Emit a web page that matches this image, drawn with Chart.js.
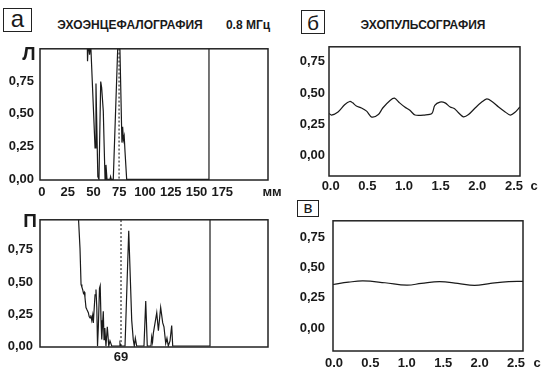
<!DOCTYPE html>
<html>
<head>
<meta charset="utf-8">
<script src="https://cdn.jsdelivr.net/npm/chart.js@4"></script>
<style>
  body { margin: 0; width: 556px; height: 374px; position: relative; overflow: hidden; background: #fff;
         font-family: "Liberation Sans", Arial, sans-serif; color: #1a1a1a; }
  canvas { position: absolute; }
  .t { position: absolute; font-weight: bold; white-space: nowrap; line-height: 1; transform: translate(-50%, -50%); z-index: 2; }
  .box { position: absolute; border: 1.3px solid #222; box-sizing: border-box; display: flex;
         align-items: center; justify-content: center; line-height: 1; }
</style>
</head>
<body>
<div class="box" style="left:3px;top:8px;width:29px;height:24px;font-size:24px;padding-bottom:3px">а</div>
<div class="t" style="left:130px;top:25px;font-size:12px">ЭХОЭНЦЕФАЛОГРАФИЯ</div>
<div class="t" style="left:248px;top:25px;font-size:12px">0.8 МГц</div>
<div class="box" style="left:301px;top:10px;width:24px;height:24px;font-size:21px">б</div>
<div class="t" style="left:423px;top:25px;font-size:12px">ЭХОПУЛЬСОГРАФИЯ</div>
<div class="box" style="left:297px;top:200px;width:22px;height:17px;font-size:17px;padding-bottom:2px">в</div>
<div class="t" style="left:29px;top:53px;font-size:19px">Л</div>
<div class="t" style="left:30px;top:220px;font-size:19px">П</div>

<canvas id="cL" width="290" height="170" style="left:0;top:35px"></canvas>
<canvas id="cR" width="290" height="169" style="left:0;top:205px"></canvas>
<canvas id="cP" width="266" height="170" style="left:290px;top:35px"></canvas>
<canvas id="cF" width="266" height="169" style="left:290px;top:205px"></canvas>

<script>
// echo, left side (Л): depth in mm, amplitude
const L_MM  = [0, 43.5, 44.2, 45, 46.2, 47.2, 51.5, 52.4, 54.2, 55.3, 57.0, 57.9, 59.5, 60.2, 61.2, 62.1, 63.1,
               66.0, 66.6, 67.2, 69.2, 74.8, 75.6, 77.6, 78.3, 79.0, 79.8, 80.6, 82.2, 162.1, 162.1];
const L_AMP = [1.3, 1.3, 0.9, 1.05, 0.95, 1.05, 0.24, 0.73, 0.02, 0, 0.745, 0.70, 0.52, 0.30, 0, 0.11, 0,
               0, 0.02, 0, 0, 1.3, 1.3, 0.28, 0.40, 0.30, 0.33, 0.21, 0, 0, 1.3];

// echo, right side (П)
const R_MM  = [0, 35.0, 35.4, 36.9, 37.9, 38.7, 39.5, 40.3, 41.1, 41.7, 42.7, 43.8, 45.0, 45.8, 46.6, 47.4, 48.3,
               49.2, 49.8, 51.5, 52.4, 53.2, 53.9, 54.7, 55.8, 56.5, 57.3, 58.0, 59.5, 60.2, 61.0, 62.1, 63.4,
               64.8, 66.0, 67.7, 74.8, 75.7, 76.5, 80.6, 84.2, 87.1, 88.6, 89.6, 90.6, 91.9, 99.0, 100.7, 102.2,
               105.8, 106.5, 107.3, 108.1, 111.4, 113.0, 115.2, 117.2, 118.4, 120.1, 121.3, 122.6, 124.3, 125.9,
               126.9, 163.1, 163.1];
const R_AMP = [1.3, 1.3, 1.0, 0.76, 0.48, 0.46, 0.44, 0.41, 0.42, 0.38, 0.30, 0.28, 0.26, 0.23, 0.22, 0.24, 0.20,
               0.24, 0.18, 0.40, 0.44, 0.30, 0.0, 0.15, 0.45, 0.47, 0.20, 0.05, 0.27, 0.05, 0.14, 0.0, 0.15,
               0.0, 0.04, 0.0, 0.0, 0.02, 0.0, 0.0, 0.90, 0.20, 0.05, 0.0, 0.06, 0.0, 0.0, 0.35, 0.0,
               0.0, 0.07, 0.03, 0.10, 0.26, 0.12, 0.30, 0.18, 0.15, 0.02, 0.06, 0.0, 0.04, 0.16,
               0.0, 0.0, 1.3];

// midline markers
const MARK_L = 74.8;
const MARK_R = 76.7;
const MARK_R_LABEL = '69';

// echopulsography (б)
const P_T   = [-0.02, 0.01, 0.10, 0.19, 0.26, 0.30, 0.35, 0.42, 0.49, 0.56, 0.65, 0.71, 0.81, 0.87, 0.94, 1.01,
               1.08, 1.15, 1.28, 1.38, 1.42, 1.49, 1.56, 1.63, 1.69, 1.74, 1.81, 1.88, 1.97, 2.06, 2.13, 2.20,
               2.29, 2.38, 2.45, 2.51, 2.58];
const P_AMP = [0.336, 0.324, 0.349, 0.406, 0.432, 0.421, 0.396, 0.380, 0.355, 0.308, 0.328, 0.380, 0.440, 0.458,
               0.421, 0.388, 0.362, 0.324, 0.324, 0.336, 0.401, 0.427, 0.421, 0.388, 0.375, 0.344, 0.310, 0.328,
               0.380, 0.427, 0.452, 0.432, 0.388, 0.349, 0.324, 0.344, 0.388];

// flat pulse (в)
const F_T   = [-0.02, 0.2, 0.4, 0.7, 1.0, 1.2, 1.45, 1.7, 1.93, 2.15, 2.4, 2.6];
const F_AMP = [0.36, 0.38, 0.39, 0.375, 0.355, 0.37, 0.385, 0.37, 0.353, 0.37, 0.385, 0.387];

const MM_TICKS  = [0, 25, 50, 75, 100, 125, 150, 175];
const SEC_TICKS = [0, 0.5, 1.0, 1.5, 2.0, 2.5];
const AMP_TICKS = [0, 0.25, 0.5, 0.75];

const INK = '#1a1a1a';
const FONT = '"Liberation Sans", Arial, sans-serif';
const tickFont = { family: FONT, size: 13, weight: 'bold' };

const frame = {
  id: 'frame',
  afterDatasetsDraw(chart) {
    const { ctx, chartArea: a } = chart;
    ctx.save();
    ctx.strokeStyle = '#222';
    ctx.lineWidth = 1.5;
    ctx.strokeRect(a.left, a.top, a.right - a.left, a.bottom - a.top);
    ctx.restore();
  }
};

const pts = (xs, ys) => xs.map((x, i) => ({ x, y: ys[i] }));
const vline = (x) => ({
  data: [{ x, y: -1 }, { x, y: 2 }],
  borderColor: INK, borderWidth: 1.1, borderDash: [2, 2], pointRadius: 0
});
const trace = (data, tension) => ({
  data, borderColor: INK, borderWidth: 1.2, pointRadius: 0, tension: tension || 0
});

// put a text label on the page, at a canvas position given by the chart
function label(canvas, text, x, y) {
  const d = document.createElement('div');
  d.className = 't';
  d.style.fontSize = '13px';
  d.style.left = (canvas.offsetLeft + x) + 'px';
  d.style.top = (canvas.offsetTop + y) + 'px';
  d.textContent = text;
  document.body.appendChild(d);
}

function makeChart(id, datasets, o) {
  const canvas = document.getElementById(id);
  const chart = new Chart(canvas, {
    type: 'line',
    data: { datasets },
    plugins: [frame],
    options: {
      responsive: false,
      animation: false,
      devicePixelRatio: 1,
      layout: { padding: o.pad },
      plugins: { legend: { display: false }, tooltip: { enabled: false } },
      scales: {
        x: {
          type: 'linear', min: o.xMin, max: o.xMax,
          grid: { display: false, drawTicks: false },
          border: { display: false },
          afterFit: (s) => { s.height = o.xH; },
          ticks: { display: false }
        },
        y: {
          min: o.yMin, max: o.yMax,
          grid: { display: false, drawTicks: false },
          border: { display: false },
          afterFit: (s) => { s.width = o.yW; },
          afterBuildTicks: (s) => { s.ticks = AMP_TICKS.map(v => ({ value: v })); },
          ticks: { font: tickFont, color: INK, padding: o.yPad,
                   callback: (v) => v.toFixed(2).replace('.', ',') }
        }
      }
    }
  });
  // x tick labels placed by the x scale, unit after the axis end
  const a = chart.chartArea;
  const x = chart.scales.x;
  o.xTicks.forEach(v => label(canvas, o.xFmt(v), x.getPixelForValue(v), a.bottom + o.xGap));
  if (o.unit) label(canvas, o.unit, a.right + o.unitDx, a.bottom + o.xGap);
}

const mmX = { xMin: -1.94, xMax: 219.4 };

makeChart('cL', [trace(pts(L_MM, L_AMP)), vline(MARK_L)], {
  ...mmX, yMin: -0.005, yMax: 0.995, xTicks: MM_TICKS, xFmt: (v) => String(v), xGap: 11,
  unit: 'мм', unitDx: 4,
  pad: { left: 0, top: 8, right: 22, bottom: 0 }, yW: 40, xH: 25, yPad: 6
});

makeChart('cR', [trace(pts(R_MM, R_AMP)), vline(MARK_R)], {
  ...mmX, yMin: -0.008, yMax: 0.985, xTicks: [MARK_R], xFmt: () => MARK_R_LABEL, xGap: 9,
  pad: { left: 0, top: 7, right: 22, bottom: 0 }, yW: 40, xH: 27, yPad: 7
});

makeChart('cP', [trace(pts(P_T, P_AMP), 0.3)], {
  xMin: -0.023, xMax: 2.582, yMin: -0.161, yMax: 0.867, xTicks: SEC_TICKS, xFmt: (v) => v.toFixed(1), xGap: 9,
  unit: 'с', unitDx: 14,
  pad: { left: 0, top: 8, right: 36, bottom: 0 }, yW: 39, xH: 29, yPad: 4
});

makeChart('cF', [trace(pts(F_T, F_AMP), 0.4)], {
  xMin: -0.014, xMax: 2.596, yMin: -0.19, yMax: 0.888, xTicks: SEC_TICKS, xFmt: (v) => v.toFixed(1), xGap: 11,
  unit: 'с', unitDx: 14,
  pad: { left: 0, top: 11, right: 33, bottom: 0 }, yW: 43, xH: 23, yPad: 8
});
</script>
</body>
</html>
